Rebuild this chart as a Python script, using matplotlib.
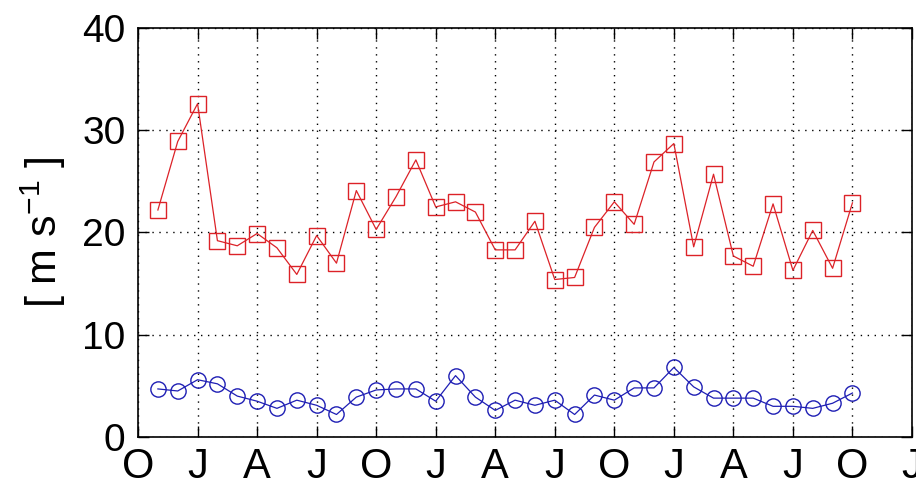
import numpy as np
import matplotlib.pyplot as plt

# monthly values, Nov of year 1 through Oct of year 4
months = np.arange(1, 37)
red_vals = [22.2, 28.9, 32.6, 19.2, 18.7, 19.9, 18.5, 15.9, 19.7, 17.0,
            24.1, 20.3, 23.5, 27.1, 22.5, 23.0, 22.0, 18.3, 18.3, 21.1,
            15.4, 15.6, 20.5, 23.0, 20.8, 26.9, 28.7, 18.6, 25.7, 17.7,
            16.7, 22.8, 16.3, 20.2, 16.5, 22.9]
blue_vals = [4.7, 4.5, 5.6, 5.2, 4.0, 3.5, 2.8, 3.6, 3.1, 2.2,
             3.9, 4.6, 4.7, 4.7, 3.5, 6.0, 3.9, 2.6, 3.6, 3.1,
             3.6, 2.2, 4.1, 3.6, 4.8, 4.8, 6.8, 4.9, 3.8, 3.8,
             3.8, 3.0, 3.0, 2.8, 3.3, 4.3]
tick_months = np.arange(0, 40, 3)
tick_labels = ['O', 'J', 'A', 'J'] * 3 + ['O', 'J']
y_ticks = [0, 10, 20, 30, 40]

plt.rcParams['font.family'] = ['Liberation Sans', 'DejaVu Sans']
plt.rcParams['mathtext.fontset'] = 'custom'
plt.rcParams['mathtext.rm'] = 'Liberation Sans'

fig = plt.figure(figsize=(9.16, 4.82), dpi=100)
ax = fig.add_axes([0.1507, 0.0934, 0.8449, 0.8485])

ax.plot(months, red_vals, color='#dc2228', lw=0.9, marker='s', ms=11,
        mfc='none', mec='#dc2228', mew=1.0)
ax.plot(months, blue_vals, color='#1e1eb4', lw=0.9, marker='o', ms=11,
        mfc='none', mec='#1e1eb4', mew=1.0)

ax.set_xlim(0, 39)
ax.set_ylim(0, 40)
ax.set_xticks(tick_months)
ax.set_xticklabels(tick_labels)
ax.set_yticks(y_ticks)
ax.tick_params(direction='in', length=8, width=1, labelsize=28, pad=9,
               top=True, right=True)
ax.tick_params(axis='x', labelsize=30, pad=7)
ax.grid(True, color='black', linestyle=(0, (1, 4)), linewidth=1.0)
for s in ax.spines.values():
    s.set_linewidth(1.2)

ax.set_ylabel('[ m s$^{\\mathrm{-1}}$ ]', fontsize=31, labelpad=10)

fig.savefig('out.png', dpi=100)
